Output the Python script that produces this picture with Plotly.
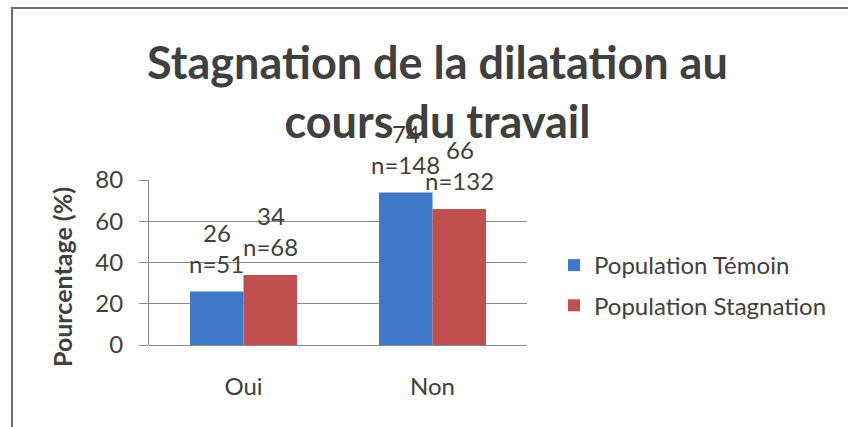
import plotly.graph_objects as go

W, H = 848, 427

categories = ["Oui", "Non"]
series_names = ["Population Témoin", "Population Stagnation"]
temoin_pct = [26, 74]
stagnation_pct = [34, 66]
temoin_n = [51, 148]
stagnation_n = [68, 132]
y_ticks = [0, 20, 40, 60, 80]

FONT = "Lato"
TEXT = "#404040"
GRID = "#8a8a8a"
COLORS = ["#3f78c6", "#c0504d"]


def px_x(x):
    return x / W


def px_y(y):
    return 1 - y / H


fig = go.Figure()
for name, vals, color in zip(series_names, [temoin_pct, stagnation_pct], COLORS):
    fig.add_trace(go.Bar(
        x=categories, y=vals, name=name, legendgroup=name,
        marker={"color": color, "line": {"width": 0}},
    ))

# value + count labels above each bar
annotations = []
for vals, counts, shift in [(temoin_pct, temoin_n, -27), (stagnation_pct, stagnation_n, 27)]:
    for cat, v, n in zip(categories, vals, counts):
        for txt, dy in [(f"n={n}", 28), (str(v), 59)]:
            annotations.append(dict(
                x=cat, y=v, xref="x", yref="y", text=txt, showarrow=False,
                xshift=shift, yshift=dy, yanchor="middle",
                font={"family": FONT, "size": 24, "color": TEXT},
            ))

# y axis title
annotations.append(dict(
    x=px_x(62), y=px_y(277), xref="paper", yref="paper",
    text="<b>Pourcentage (%)</b>", textangle=-90, showarrow=False,
    xanchor="center", yanchor="middle",
    font={"family": FONT, "size": 25, "color": TEXT},
))

# chart title
annotations.append(dict(
    x=px_x(437), y=px_y(91), xref="paper", yref="paper",
    text="<b>Stagnation de la dilatation au<br>cours du travail</b>",
    showarrow=False, xanchor="center", yanchor="middle",
    font={"family": FONT, "size": 45, "color": TEXT},
))

# frame (top and left edges visible)
shapes = [dict(
    type="path", xref="paper", yref="paper",
    path=f"M {px_x(12)},{px_y(430)} L {px_x(12)},{px_y(8)} L {px_x(850)},{px_y(8)}",
    line={"color": "#6e6e6e", "width": 2},
)]

fig.update_layout(
    width=W, height=H,
    margin={"l": 0, "r": 0, "t": 0, "b": 0, "autoexpand": False},
    paper_bgcolor="white", plot_bgcolor="white",
    barmode="group", bargap=0.434, bargroupgap=0,
    font={"family": FONT, "color": TEXT},
    xaxis=dict(
        domain=[px_x(149), px_x(527)],
        tickfont={"size": 24, "color": TEXT},
        showline=False, ticks="", ticklabelstandoff=25,
    ),
    yaxis=dict(
        domain=[px_y(345), px_y(180)],
        range=[0, 80], tickvals=y_ticks,
        showgrid=True, gridcolor=GRID, gridwidth=1,
        showline=True, linecolor=GRID, linewidth=1,
        ticks="outside", ticklen=9, tickcolor=GRID,
        tickfont={"size": 24, "color": TEXT}, ticklabelstandoff=11,
        zeroline=True, zerolinecolor=GRID, zerolinewidth=1,
    ),
    legend=dict(
        x=px_x(554), y=px_y(243), xanchor="left", yanchor="top",
        font={"family": FONT, "size": 24, "color": TEXT},
        tracegroupgap=6, itemwidth=30,
        bgcolor="rgba(0,0,0,0)",
    ),
    annotations=annotations,
    shapes=shapes,
)

fig.write_html(
    "out.html",
    config={"displayModeBar": False},
    post_script="document.body.style.margin='0';document.body.style.overflow='hidden';",
)
